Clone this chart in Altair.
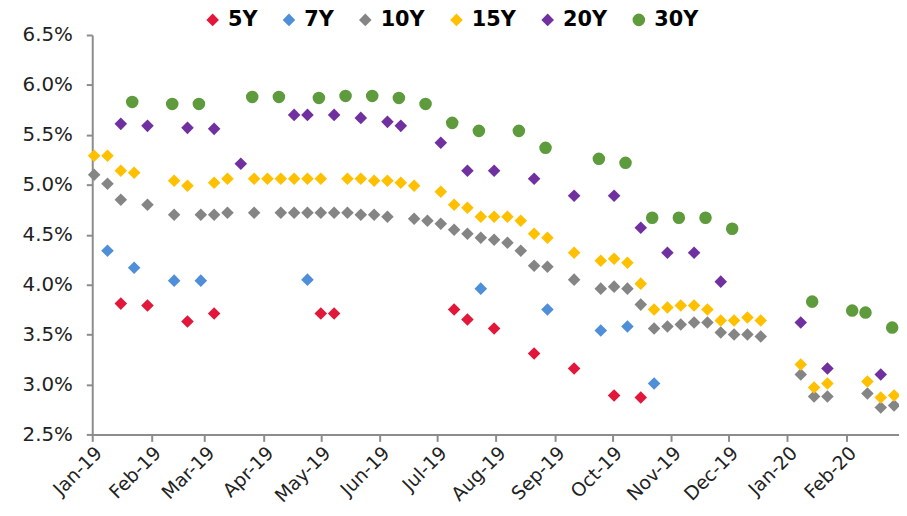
import altair as alt
import pandas as pd

series_names = ["5Y", "7Y", "10Y", "15Y", "20Y", "30Y"]
series_colors = ["#E3173A", "#4F8ED8", "#858585", "#FFC000", "#7030A0", "#5E9B3C"]
series_shapes = ["diamond", "diamond", "diamond", "diamond", "diamond", "circle"]

dates_5y = ["2019-01-16", "2019-01-30", "2019-02-20", "2019-03-06", "2019-05-01", "2019-05-08",
            "2019-07-10", "2019-07-17", "2019-07-31", "2019-08-21", "2019-09-11", "2019-10-02",
            "2019-10-16"]
yield_5y = [3.81, 3.79, 3.63, 3.71, 3.71, 3.71, 3.75, 3.65, 3.56, 3.31, 3.16, 2.89, 2.87]

dates_7y = ["2019-01-09", "2019-01-23", "2019-02-13", "2019-02-27", "2019-04-24", "2019-07-24",
            "2019-08-28", "2019-09-25", "2019-10-09", "2019-10-23"]
yield_7y = [4.34, 4.17, 4.04, 4.04, 4.05, 3.96, 3.75, 3.54, 3.58, 3.01]

dates_10y = ["2019-01-02", "2019-01-09", "2019-01-16", "2019-01-30", "2019-02-13", "2019-02-27",
             "2019-03-06", "2019-03-13", "2019-03-27", "2019-04-10", "2019-04-17", "2019-04-24",
             "2019-05-01", "2019-05-08", "2019-05-15", "2019-05-22", "2019-05-29", "2019-06-05",
             "2019-06-19", "2019-06-26", "2019-07-03", "2019-07-10", "2019-07-17", "2019-07-24",
             "2019-07-31", "2019-08-07", "2019-08-14", "2019-08-21", "2019-08-28", "2019-09-11",
             "2019-09-25", "2019-10-02", "2019-10-09", "2019-10-16", "2019-10-23", "2019-10-30",
             "2019-11-06", "2019-11-13", "2019-11-20", "2019-11-27", "2019-12-04", "2019-12-11",
             "2019-12-18", "2020-01-08", "2020-01-15", "2020-01-22", "2020-02-12", "2020-02-19",
             "2020-02-26"]
yield_10y = [5.10, 5.01, 4.85, 4.80, 4.70, 4.70, 4.70, 4.72, 4.72, 4.72, 4.72, 4.72,
             4.72, 4.72, 4.72, 4.70, 4.70, 4.68, 4.66, 4.64, 4.61, 4.55, 4.51, 4.47,
             4.45, 4.42, 4.34, 4.19, 4.18, 4.05, 3.96, 3.98, 3.96, 3.80, 3.56, 3.58,
             3.60, 3.62, 3.62, 3.52, 3.50, 3.50, 3.48, 3.10, 2.88, 2.88, 2.91, 2.77,
             2.79]

dates_15y = ["2019-01-02", "2019-01-09", "2019-01-16", "2019-01-23", "2019-02-13", "2019-02-20",
             "2019-03-06", "2019-03-13", "2019-03-27", "2019-04-03", "2019-04-10", "2019-04-17",
             "2019-04-24", "2019-05-01", "2019-05-15", "2019-05-22", "2019-05-29", "2019-06-05",
             "2019-06-12", "2019-06-19", "2019-07-03", "2019-07-10", "2019-07-17", "2019-07-24",
             "2019-07-31", "2019-08-07", "2019-08-14", "2019-08-21", "2019-08-28", "2019-09-11",
             "2019-09-25", "2019-10-02", "2019-10-09", "2019-10-16", "2019-10-23", "2019-10-30",
             "2019-11-06", "2019-11-13", "2019-11-20", "2019-11-27", "2019-12-04", "2019-12-11",
             "2019-12-18", "2020-01-08", "2020-01-15", "2020-01-22", "2020-02-12", "2020-02-19",
             "2020-02-26"]
yield_15y = [5.29, 5.29, 5.14, 5.12, 5.04, 4.99, 5.02, 5.06, 5.06, 5.06, 5.06, 5.06,
             5.06, 5.06, 5.06, 5.06, 5.04, 5.04, 5.02, 4.99, 4.93, 4.80, 4.77, 4.68,
             4.68, 4.68, 4.64, 4.51, 4.47, 4.32, 4.24, 4.26, 4.22, 4.01, 3.75, 3.77,
             3.79, 3.79, 3.75, 3.64, 3.64, 3.67, 3.64, 3.20, 2.97, 3.01, 3.03, 2.87,
             2.89]

dates_20y = ["2019-01-16", "2019-01-30", "2019-02-20", "2019-03-06", "2019-03-20", "2019-04-17",
             "2019-04-24", "2019-05-08", "2019-05-22", "2019-06-05", "2019-06-12", "2019-07-03",
             "2019-07-17", "2019-07-31", "2019-08-21", "2019-09-11", "2019-10-02", "2019-10-16",
             "2019-10-30", "2019-11-13", "2019-11-27", "2020-01-08", "2020-01-22", "2020-02-19"]
yield_20y = [5.61, 5.59, 5.57, 5.56, 5.21, 5.70, 5.70, 5.70, 5.67, 5.63, 5.59, 5.42,
             5.14, 5.14, 5.06, 4.89, 4.89, 4.57, 4.32, 4.32, 4.03, 3.62, 3.16, 3.10]

dates_30y = ["2019-01-22", "2019-02-12", "2019-02-26", "2019-03-26", "2019-04-09", "2019-04-30",
             "2019-05-14", "2019-05-28", "2019-06-11", "2019-06-25", "2019-07-09", "2019-07-23",
             "2019-08-13", "2019-08-27", "2019-09-24", "2019-10-08", "2019-10-22", "2019-11-05",
             "2019-11-19", "2019-12-03", "2020-01-14", "2020-02-04", "2020-02-11", "2020-02-25"]
yield_30y = [5.83, 5.81, 5.81, 5.88, 5.88, 5.87, 5.89, 5.89, 5.87, 5.81, 5.62, 5.54,
             5.54, 5.37, 5.26, 5.22, 4.67, 4.67, 4.67, 4.56, 3.83, 3.74, 3.72, 3.57]

y_ticks = [2.5, 3.0, 3.5, 4.0, 4.5, 5.0, 5.5, 6.0, 6.5]
month_ticks = ["2019-01-01", "2019-02-01", "2019-03-01", "2019-04-01", "2019-05-01",
               "2019-06-01", "2019-07-01", "2019-08-01", "2019-09-01", "2019-10-01",
               "2019-11-01", "2019-12-01", "2020-01-01", "2020-02-01"]

all_dates = [dates_5y, dates_7y, dates_10y, dates_15y, dates_20y, dates_30y]
all_yields = [yield_5y, yield_7y, yield_10y, yield_15y, yield_20y, yield_30y]

frames = []
for i, (name, d, v) in enumerate(zip(series_names, all_dates, all_yields)):
    frames.append(pd.DataFrame({"date": d, "yield": v, "tenor": name, "order": i}))
df = pd.concat(frames, ignore_index=True)

tick_ms = [int(pd.Timestamp(t, tz="UTC").timestamp() * 1000) for t in month_ticks]

x_enc = alt.X(
    "date:T",
    scale=alt.Scale(type="utc",
                    domain=[alt.DateTime(year=2019, month=1, date=1, utc=True),
                            alt.DateTime(year=2020, month=2, date=28, hours=14, utc=True)]),
    axis=alt.Axis(values=tick_ms, labelExpr="utcFormat(datum.value, '%b-%y')", title=None,
                  labelAngle=-45, labelFontSize=19, labelPadding=2, tickSize=7,
                  labelOverlap=False, labelBound=False),
)
y_enc = alt.Y(
    "yield:Q",
    scale=alt.Scale(domain=[2.5, 6.5], nice=False, zero=False),
    axis=alt.Axis(values=y_ticks, labelExpr="format(datum.value, '.1f') + '%'", title=None,
                  labelFontSize=20, labelPadding=14, tickSize=6),
)

chart = alt.Chart(df).mark_point(filled=True, opacity=1).encode(
    x=x_enc,
    y=y_enc,
    color=alt.Color("tenor:N", scale=alt.Scale(domain=series_names, range=series_colors),
                    legend=alt.Legend(title=None, orient="none", direction="horizontal",
                                      legendX=111, legendY=-26, labelFont="DejaVu Sans",
                                      labelFontSize=21, labelFontWeight="bold",
                                      labelColor="#000000", symbolSize=60,
                                      labelOffset=5, columnPadding=21, padding=0)),
    shape=alt.Shape("tenor:N", scale=alt.Scale(domain=series_names, range=series_shapes),
                    legend=alt.Legend(title=None)),
    size=alt.Size("tenor:N", scale=alt.Scale(domain=series_names,
                                             range=[160, 160, 160, 160, 160, 130]),
                  legend=None),
    order=alt.Order("order:Q"),
).properties(
    width=814,
    height=403,
    autosize=alt.AutoSizeParams(type="none"),
    padding={"left": 85, "top": 25, "right": 0, "bottom": 72},
).configure_view(
    stroke=None
).configure_axis(
    grid=False,
    domainColor="#8C8C8C",
    domainWidth=2,
    tickColor="#8C8C8C",
    tickWidth=2,
    labelFont="DejaVu Sans",
    labelColor="#222222",
)

chart.save("out.html", embed_options={"renderer": "svg", "actions": False})
